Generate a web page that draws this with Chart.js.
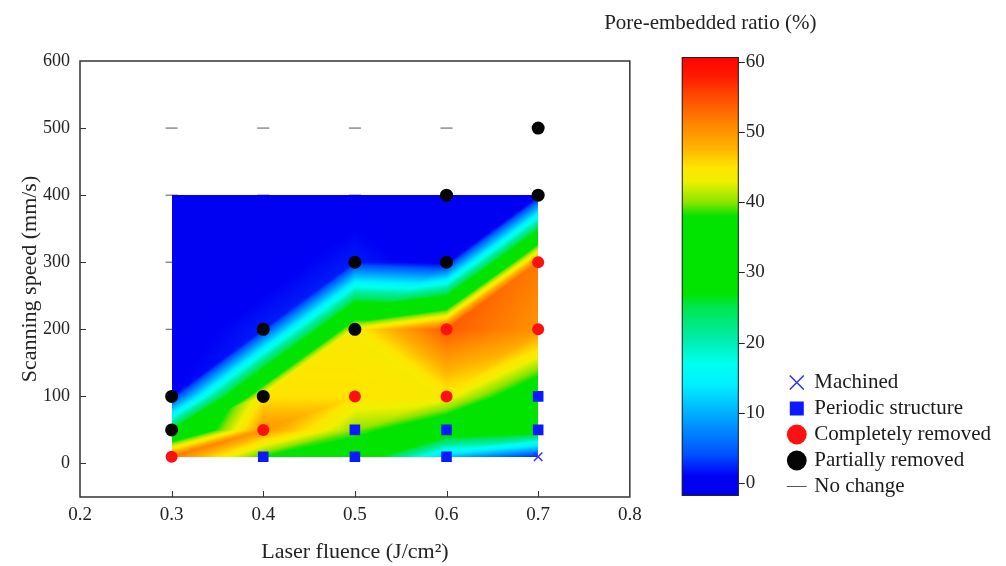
<!DOCTYPE html>
<html>
<head>
<meta charset="utf-8">
<script src="https://cdn.jsdelivr.net/npm/chart.js@4.4.1/dist/chart.umd.min.js"></script>
<style>
  html, body { margin: 0; padding: 0; background: #fff; }
</style>
</head>
<body>
<canvas id="poreChart" width="1006" height="566"></canvas>
<script>
// grid of the contour map
const fluence = [0.3, 0.4, 0.5, 0.6, 0.7];
const speeds = [10, 50, 100, 200, 300, 400];
// pore-embedded ratio (%) per scanning speed row, columns follow fluence
const ratioAt10 = [52, 38, 33, 11, 2];
const ratioAt50 = [27, 50, 40, 33, 30];
const ratioAt100 = [1, 45, 45, 44, 33];
const ratioAt200 = [0, 2, 44, 54, 50];
const ratioAt300 = [0, 0, 2, 0, 52];
const ratioAt400 = [0, 0, 0, 0, 0];
const poreRatio = [ratioAt10, ratioAt50, ratioAt100, ratioAt200, ratioAt300, ratioAt400];

// observed results, [fluence, speed]
const machined = [[0.7, 10]];
const periodicStructure = [[0.4, 10], [0.5, 10], [0.5, 50], [0.6, 10], [0.6, 50], [0.7, 50], [0.7, 100]];
const completelyRemoved = [[0.3, 10], [0.4, 50], [0.5, 100], [0.6, 100], [0.6, 200], [0.7, 200], [0.7, 300]];
const partiallyRemoved = [[0.3, 50], [0.3, 100], [0.4, 100], [0.4, 200], [0.5, 200], [0.5, 300], [0.6, 300], [0.6, 400], [0.7, 400], [0.7, 500]];
const noChange = [[0.3, 200], [0.3, 300], [0.3, 400], [0.4, 400], [0.5, 400], [0.3, 500], [0.4, 500], [0.5, 500], [0.6, 500]];

const colorbarTitle = 'Pore-embedded ratio (%)';

// colour map of the colour bar: [value, r, g, b]
const colorStops = [
  [-2, 0, 0, 235], [1, 0, 0, 245], [4, 0, 80, 255], [9, 0, 160, 255], [14, 0, 240, 255],
  [17, 0, 255, 240], [21, 0, 235, 160], [25, 0, 230, 80], [27, 0, 228, 0], [38, 0, 228, 0],
  [40, 140, 228, 0], [43, 240, 240, 0], [45, 255, 228, 0], [48, 255, 175, 0], [51, 255, 135, 0],
  [55, 255, 75, 0], [58, 255, 25, 0], [61, 255, 0, 0]
];

const serif = "'Liberation Serif', 'Times New Roman', serif";
Chart.defaults.font.family = serif;
Chart.defaults.color = '#222';

function colorFor(v) {
  if (v <= colorStops[0][0]) return colorStops[0].slice(1);
  for (let i = 1; i < colorStops.length; i++) {
    const a = colorStops[i - 1], b = colorStops[i];
    if (v <= b[0]) {
      const t = (v - a[0]) / (b[0] - a[0]);
      return [a[1] + t * (b[1] - a[1]), a[2] + t * (b[2] - a[2]), a[3] + t * (b[3] - a[3])];
    }
  }
  return colorStops[colorStops.length - 1].slice(1);
}

function findCell(arr, v) {
  for (let i = 0; i < arr.length - 2; i++) {
    if (v <= arr[i + 1]) return i;
  }
  return arr.length - 2;
}

// linear interpolation on two triangles per cell; the cell is split along
// the diagonal whose two corner values are closest
function ratioAt(fx, sy) {
  const i = findCell(fluence, fx), j = findCell(speeds, sy);
  const tx = Math.min(1, Math.max(0, (fx - fluence[i]) / (fluence[i + 1] - fluence[i])));
  const ty = Math.min(1, Math.max(0, (sy - speeds[j]) / (speeds[j + 1] - speeds[j])));
  const z00 = poreRatio[j][i], z10 = poreRatio[j][i + 1];
  const z01 = poreRatio[j + 1][i], z11 = poreRatio[j + 1][i + 1];
  if (Math.abs(z00 - z11) <= Math.abs(z01 - z10)) {
    if (ty <= tx) return z00 + tx * (z10 - z00) + ty * (z11 - z10);
    return z00 + ty * (z01 - z00) + tx * (z11 - z01);
  }
  if (tx + ty <= 1) return z00 + tx * (z10 - z00) + ty * (z01 - z00);
  return z11 + (1 - tx) * (z01 - z11) + (1 - ty) * (z10 - z11);
}

const toPoints = arr => arr.map(p => ({x: p[0], y: p[1]}));

// contour is painted right after the "No change" marks, so they sit underneath it
const contourPlugin = {
  id: 'contour',
  afterDatasetDraw(chart, args) {
    if (args.index !== 4) return;
    const xs = chart.scales.x, ys = chart.scales.y;
    const left = Math.round(xs.getPixelForValue(fluence[0]));
    const right = Math.round(xs.getPixelForValue(fluence[fluence.length - 1]));
    const top = Math.round(ys.getPixelForValue(speeds[speeds.length - 1]));
    const bottom = Math.round(ys.getPixelForValue(speeds[0]));
    const w = right - left, h = bottom - top;
    const off = document.createElement('canvas');
    off.width = w; off.height = h;
    const octx = off.getContext('2d');
    const img = octx.createImageData(w, h);
    for (let py = 0; py < h; py++) {
      const sy = ys.getValueForPixel(top + py + 0.5);
      for (let px = 0; px < w; px++) {
        const fx = xs.getValueForPixel(left + px + 0.5);
        const c = colorFor(ratioAt(fx, sy));
        const k = (py * w + px) * 4;
        img.data[k] = c[0]; img.data[k + 1] = c[1]; img.data[k + 2] = c[2]; img.data[k + 3] = 255;
      }
    }
    octx.putImageData(img, 0, 0);
    chart.ctx.drawImage(off, left, top);
  }
};

const framePlugin = {
  id: 'frame',
  afterDraw(chart) {
    const {ctx, chartArea: a} = chart;
    const xs = chart.scales.x, ys = chart.scales.y;
    ctx.save();
    ctx.strokeStyle = '#333';
    ctx.lineWidth = 1.5;
    ctx.strokeRect(a.left, a.top, a.right - a.left, a.bottom - a.top);
    ctx.lineWidth = 1;
    ctx.beginPath();
    xs.ticks.forEach(t => {
      const x = Math.round(xs.getPixelForValue(t.value)) + 0.5;
      if (x > a.left + 2 && x < a.right - 2) { ctx.moveTo(x, a.bottom); ctx.lineTo(x, a.bottom - 6); }
    });
    ys.ticks.forEach(t => {
      const y = Math.round(ys.getPixelForValue(t.value)) + 0.5;
      if (y > a.top + 2 && y < a.bottom - 2) { ctx.moveTo(a.left, y); ctx.lineTo(a.left + 6, y); }
    });
    ctx.stroke();
    ctx.restore();
  }
};

const colorbarPlugin = {
  id: 'colorbar',
  afterDraw(chart) {
    const {ctx} = chart;
    const s = chart.scales.ratio;
    const barLeft = s.left + 52, barRight = s.left + 109;
    const yTop = Math.round(s.getPixelForValue(60.7));
    const yBottom = Math.round(s.getPixelForValue(-1.9));
    ctx.save();
    for (let y = yTop; y < yBottom; y++) {
      const c = colorFor(s.getValueForPixel(y + 0.5));
      ctx.fillStyle = `rgb(${c[0]},${c[1]},${c[2]})`;
      ctx.fillRect(barLeft, y, barRight - barLeft, 1);
    }
    ctx.strokeStyle = '#222';
    ctx.lineWidth = 1;
    ctx.strokeRect(barLeft + 0.5, yTop + 0.5, barRight - barLeft - 1, yBottom - yTop - 1);
    ctx.beginPath();
    s.ticks.forEach(t => {
      const y = Math.round(s.getPixelForValue(t.value)) + 0.5;
      ctx.moveTo(barRight, y);
      ctx.lineTo(barRight + 6, y);
    });
    ctx.stroke();
    ctx.fillStyle = '#222';
    ctx.font = '21px ' + serif;
    ctx.textAlign = 'center';
    ctx.textBaseline = 'middle';
    ctx.fillText(colorbarTitle, (barLeft + barRight) / 2, 23);
    ctx.restore();
  }
};

// the legend sits a few pixels lower than the plot bottom
const legendNudge = {
  id: 'legendNudge',
  afterLayout(chart) {
    if (!chart.legend) return;
    chart.legend.top += 5;
    chart.legend.bottom += 5;
  }
};

new Chart(document.getElementById('poreChart').getContext('2d'), {
  type: 'scatter',
  data: {
    datasets: [{
      label: 'Machined',
      data: toPoints(machined),
      pointStyle: 'crossRot',
      pointRadius: 6,
      borderColor: '#3030ff',
      backgroundColor: '#3030ff',
      borderWidth: 1.5,
    }, {
      label: 'Periodic structure',
      data: toPoints(periodicStructure),
      pointStyle: 'rect',
      pointRadius: 7.5,
      borderColor: '#0a1aff',
      backgroundColor: '#0a1aff',
      borderWidth: 0,
    }, {
      label: 'Completely removed',
      data: toPoints(completelyRemoved),
      pointStyle: 'circle',
      pointRadius: 6,
      borderColor: '#ff1010',
      backgroundColor: '#ff1010',
      borderWidth: 0,
    }, {
      label: 'Partially removed',
      data: toPoints(partiallyRemoved),
      pointStyle: 'circle',
      pointRadius: 6.5,
      borderColor: '#050505',
      backgroundColor: '#050505',
      borderWidth: 0,
    }, {
      label: 'No change',
      data: toPoints(noChange),
      pointStyle: 'line',
      pointRadius: 6,
      borderColor: '#555',
      backgroundColor: '#555',
      borderWidth: 1,
    }]
  },
  options: {
    responsive: false,
    animation: false,
    layout: { padding: { top: 61, right: 5, bottom: 0, left: 0 } },
    plugins: {
      tooltip: { enabled: false },
      legend: {
        position: 'right',
        align: 'end',
        fullSize: false,
        maxWidth: 260,
        labels: {
          usePointStyle: true,
          boxWidth: 14,
          boxHeight: 14,
          padding: 5,
          color: '#1a1a1a',
          font: { size: 21 },
        }
      }
    },
    scales: {
      x: {
        type: 'linear',
        min: 0.2,
        max: 0.8,
        ticks: { stepSize: 0.1, padding: 7, font: { size: 19 } },
        grid: { display: false, drawTicks: false },
        border: { display: false },
        title: { display: true, text: 'Laser fluence (J/cm²)', font: { size: 22 }, padding: { top: 0, bottom: 1 } },
        afterFit: s => { s.height = 69; }
      },
      y: {
        type: 'linear',
        min: -50,
        max: 600,
        ticks: { stepSize: 100, includeBounds: false, padding: 10, font: { size: 18 } },
        grid: { display: false, drawTicks: false },
        border: { display: false },
        title: { display: true, text: 'Scanning speed (mm/s)', font: { size: 22 }, padding: { top: 17, bottom: 0 } },
        afterFit: s => { s.width = 80; }
      },
      ratio: {
        type: 'linear',
        position: 'right',
        min: -2,
        max: 60.14,
        ticks: { stepSize: 10, includeBounds: false, padding: 116, font: { size: 19 } },
        grid: { display: false, drawTicks: false },
        border: { display: false },
        afterFit: s => { s.width = 155; s.paddingTop = 0; s.paddingBottom = 0; }
      }
    }
  },
  plugins: [contourPlugin, framePlugin, colorbarPlugin, legendNudge]
});
</script>
</body>
</html>
